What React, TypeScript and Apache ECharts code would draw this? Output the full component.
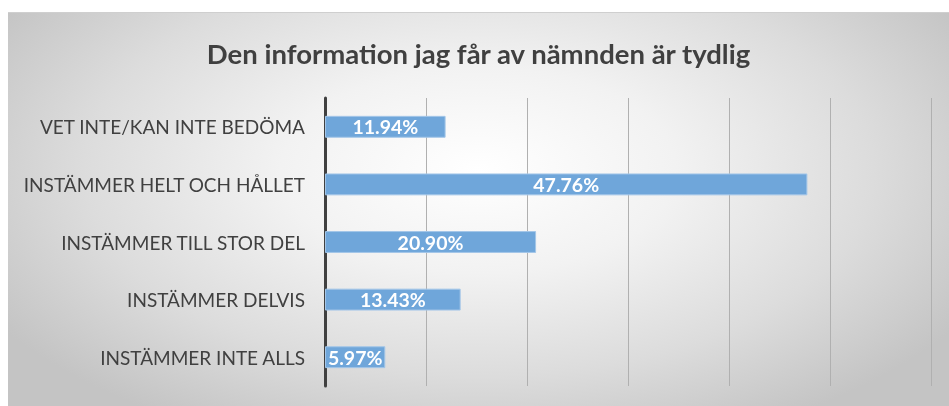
import React, { useEffect, useRef } from "react";
import * as echarts from "echarts";

const titleText = "Den information jag får av nämnden är tydlig";
const categories = [
  "VET INTE/KAN INTE BEDÖMA",
  "INSTÄMMER HELT OCH HÅLLET",
  "INSTÄMMER TILL STOR DEL",
  "INSTÄMMER DELVIS",
  "INSTÄMMER INTE ALLS",
];
const values = [11.94, 47.76, 20.9, 13.43, 5.97];
const axisMin = 0;
const axisMax = 60;
const axisInterval = 10;

export default function App() {
  const ref = useRef<HTMLDivElement>(null);
  useEffect(() => {
    if (!ref.current) return;
    const chart = echarts.init(ref.current, null, { renderer: "svg" });
    chart.setOption({
      animation: false,
      title: {
        text: titleText,
        left: "center",
        top: 21,
        textStyle: {
          fontFamily: "Lato",
          fontWeight: "bold",
          fontSize: 27.5,
          color: "#404040",
        },
      },
      grid: { left: 317, right: 18, top: 85, bottom: 20, containLabel: false },
      xAxis: {
        type: "value",
        min: axisMin,
        max: axisMax,
        interval: axisInterval,
        axisLabel: { show: false },
        axisLine: { show: false },
        axisTick: { show: false },
        splitLine: { lineStyle: { color: "#b0b0b0", width: 1 } },
      },
      yAxis: {
        type: "category",
        data: categories,
        inverse: true,
        axisLine: { show: true, lineStyle: { color: "#404040", width: 3 } },
        axisTick: { show: false },
        axisLabel: {
          color: "#404040",
          fontFamily: "Lato",
          fontSize: 19,
          margin: 20,
        },
      },
      series: [
        {
          type: "bar",
          data: values,
          barWidth: "38%",
          itemStyle: {
            color: "#6fa6da",
            borderColor: "#a3c6e8",
            borderWidth: 1,
          },
          label: {
            show: true,
            position: "inside",
            formatter: (p: any) => p.value.toFixed(2) + "%",
            color: "#ffffff",
            fontFamily: "Lato",
            fontWeight: "bold",
            fontSize: 19.5,
          },
        },
      ],
    });
    return () => chart.dispose();
  }, []);
  return (
    <div
      ref={ref}
      style={{
        position: "fixed",
        left: 8,
        top: 12,
        width: 941,
        height: 394,
        borderTop: "1px solid #cfcfcf",
        boxSizing: "border-box",
        background:
          "radial-gradient(ellipse 60% 75% at 50% 40%, #ffffff 0%, #f2f2f2 35%, #dcdcdc 70%, #c4c4c4 100%)",
      }}
    />
  );
}
